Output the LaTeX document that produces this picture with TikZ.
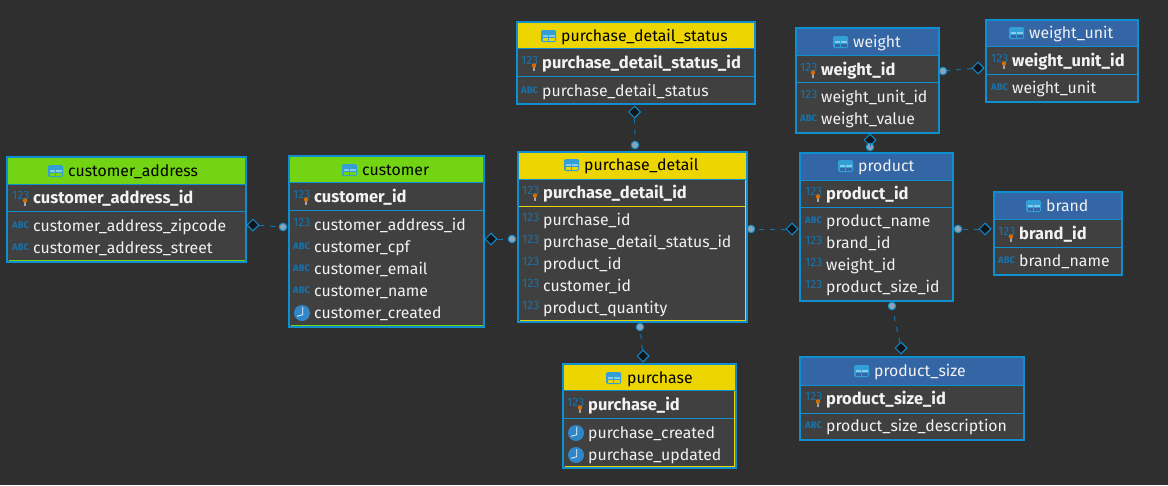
\documentclass[tikz,border=0pt]{standalone}
\usepackage{fontspec}
\setmainfont{Fira Sans}
\usetikzlibrary{shapes.geometric}
\definecolor{bgc}{HTML}{2F2F2F}
\definecolor{bodyc}{HTML}{404040}
\definecolor{edgec}{HTML}{0E8FD0}
\definecolor{typec}{HTML}{1673AE}
\definecolor{greenc}{HTML}{72D412}
\definecolor{yellowc}{HTML}{ECD500}
\definecolor{bluec}{HTML}{3465A4}
\definecolor{txtc}{HTML}{F2F2F2}
\definecolor{dotc}{HTML}{8FA3B2}
\definecolor{clockc}{HTML}{2F86C8}
\definecolor{iconc}{HTML}{3AA8E0}
\definecolor{diac}{HTML}{12161A}
\tikzset{
  tablebox/.style={draw=edgec,line width=2.4pt,fill=bodyc,rectangle,inner sep=0pt,outer sep=0pt,anchor=north west},
  rowtext/.style={text=txtc,anchor=base west,inner sep=0pt,font=\fontsize{15.8}{18}\selectfont},
  keytext/.style={rowtext,font=\fontsize{16.5}{18}\selectfont\bfseries},
  titletext/.style={anchor=base west,inner sep=0pt,font=\fontsize{15.8}{18}\selectfont},
  numicon/.style={text=typec,anchor=base west,inner sep=0pt,font=\fontsize{12}{14}\selectfont},
  abcicon/.style={text=typec,anchor=base west,inner sep=0pt,font=\fontsize{9.5}{12}\selectfont\bfseries},
  clockicon/.style={circle,fill=clockc,minimum size=16pt,inner sep=0pt},
  fkdiamond/.style={diamond,draw=edgec,fill=diac,line width=1pt,minimum size=12pt,inner sep=0pt},
  fkdot/.style={circle,draw=edgec,fill=dotc,line width=1pt,minimum size=7.5pt,inner sep=0pt},
  fkline/.style={draw=typec,line width=1pt,dash pattern=on 5pt off 6pt}
}
% id x1 y1 x2 y2 headerbottom keybottom headercolour keylinecolour
\newcommand{\ertable}[9]{%
  \node[tablebox,minimum width={(#4-#2-0.4)*1pt},minimum height={(#5-#3-0.4)*1pt}] (#1) at (#2+0.2,#3+0.2) {};
  \fill[#8] (#2+1.4,#3+1.4) rectangle (#4-1.4,#6);
  \draw[edgec,line width=1pt] (#2+1,#6) -- (#4-1,#6);
  \draw[#9,line width=1pt] (#2+1.4,#7) -- (#4-1.4,#7);
}
\newcommand{\edgeaccent}[5]{% colour x1 y1 x2 y2
  \draw[#1,line width=1pt] (#2,#3) -- (#4,#5);
}
\newcommand{\tabletitle}[6]{% id iconx textx y colour textcolour
  \fill[edgec!85!white,rounded corners=1.5pt] (#2,#4-6) rectangle (#2+15,#4+6);
  \fill[iconc!60!white] (#2+1.5,#4-1.5) rectangle (#2+6.8,#4+1);
  \fill[iconc!60!white] (#2+8.2,#4-1.5) rectangle (#2+13.5,#4+1);
  \fill[#5] (#2+1.5,#4+2) rectangle (#2+6.8,#4+5);
  \fill[#5] (#2+8.2,#4+2) rectangle (#2+13.5,#4+5);
  \node[titletext,text=#6] (#1) at (#3,#4+5.5) {\csname tt@#1\endcsname};
}
\newcommand{\keyrow}[4]{% id textx y text
  \node[numicon] (#1-i) at (#2-21,#3+1) {123};
  \fill[gray!70!white] (#2-9.3,#3+4) rectangle (#2-6.7,#3+7.5);
  \fill[orange!85!black] (#2-8,#3+2.5) circle (2.2pt);
  \node[keytext] (#1) at (#2,#3+5.5) {#4};
}
\newcommand{\numrow}[4]{%
  \node[numicon] (#1-i) at (#2-21,#3+1) {123};
  \node[rowtext] (#1) at (#2,#3+5.5) {#4};
}
\newcommand{\abcrow}[4]{%
  \node[abcicon] (#1-i) at (#2-21,#3+2.5) {ABC};
  \node[rowtext] (#1) at (#2,#3+5.5) {#4};
}
\newcommand{\clockrow}[4]{%
  \node[clockicon] (#1-i) at (#2-12,#3) {};
  \draw[white,line width=0.7pt] (#2-11.3,#3-6) -- (#2-11.3,#3+1.7) -- (#2-17,#3+3.3);
  \node[rowtext] (#1) at (#2,#3+5.5) {#4};
}
\newcommand{\link}[6]{% dname x y dotname x y
  \node[fkdiamond] (#1) at (#2,#3) {};
  \node[fkdot] (#4) at (#5,#6) {};
  \draw[fkline] (#1) -- (#4);
}
\begin{document}
\begin{tikzpicture}[x=1pt,y=-1pt]
\useasboundingbox (0,0) rectangle (1168,485);
\fill[bgc] (0,0) rectangle (1168,485);

\expandafter\def\csname tt@t1\endcsname{customer\_address}
\ertable{ca}{7}{157}{246}{262}{184}{211}{greenc}{edgec}
\edgeaccent{greenc}{8.5}{260.5}{244.5}{260.5}
\tabletitle{t1}{48}{68}{171}{greenc}{black}
\keyrow{ca1}{33}{198}{customer\_address\_id}
\abcrow{ca2}{33}{226}{customer\_address\_zipcode}
\abcrow{ca3}{33}{248}{customer\_address\_street}

\expandafter\def\csname tt@t2\endcsname{customer}
\ertable{cu}{289}{156}{484}{327}{182}{210}{greenc}{edgec}
\edgeaccent{greenc}{290.5}{325.5}{482.5}{325.5}
\tabletitle{t2}{342}{362}{170}{greenc}{black}
\keyrow{cu1}{314}{197}{customer\_id}
\numrow{cu2}{314}{225}{customer\_address\_id}
\abcrow{cu3}{314}{247}{customer\_cpf}
\abcrow{cu4}{314}{269}{customer\_email}
\abcrow{cu5}{314}{291}{customer\_name}
\clockrow{cu6}{314}{313}{customer\_created}

\expandafter\def\csname tt@t3\endcsname{purchase\_detail}
\ertable{pd}{518}{152}{747}{322}{179}{206}{yellowc}{yellowc}
\edgeaccent{yellowc}{519.5}{320.5}{745.5}{320.5}
\edgeaccent{yellowc}{745.5}{180}{745.5}{320.5}
\tabletitle{t3}{564}{584}{165}{yellowc}{black}
\keyrow{pd1}{543}{193}{purchase\_detail\_id}
\numrow{pd2}{543}{220}{purchase\_id}
\numrow{pd3}{543}{242}{purchase\_detail\_status\_id}
\numrow{pd4}{543}{264}{product\_id}
\numrow{pd5}{543}{286}{customer\_id}
\numrow{pd6}{543}{308}{product\_quantity}

\expandafter\def\csname tt@t4\endcsname{purchase\_detail\_status}
\ertable{ps}{517}{22}{755}{104}{48}{76}{yellowc}{edgec}
\tabletitle{t4}{541}{561}{36}{yellowc}{black}
\keyrow{ps1}{542}{63}{purchase\_detail\_status\_id}
\abcrow{ps2}{542}{91}{purchase\_detail\_status}

\expandafter\def\csname tt@t5\endcsname{purchase}
\ertable{pu}{563}{364}{736}{468}{390}{418}{yellowc}{edgec}
\edgeaccent{yellowc}{564.5}{466.5}{734.5}{466.5}
\edgeaccent{yellowc}{734.5}{391}{734.5}{466.5}
\tabletitle{t5}{606}{627}{378}{yellowc}{black}
\keyrow{pu1}{588}{405}{purchase\_id}
\clockrow{pu2}{588}{433}{purchase\_created}
\clockrow{pu3}{588}{455}{purchase\_updated}

\expandafter\def\csname tt@t6\endcsname{weight}
\ertable{we}{796}{28}{939}{133}{55}{82}{bluec}{edgec}
\tabletitle{t6}{833}{853}{42}{bluec}{txtc}
\keyrow{we1}{821}{70}{weight\_id}
\numrow{we2}{821}{97}{weight\_unit\_id}
\abcrow{we3}{821}{119}{weight\_value}

\expandafter\def\csname tt@t7\endcsname{weight\_unit}
\ertable{wu}{986}{20}{1138}{102}{46}{74}{bluec}{edgec}
\tabletitle{t7}{1009}{1029}{33}{bluec}{txtc}
\keyrow{wu1}{1012}{61}{weight\_unit\_id}
\abcrow{wu2}{1012}{88}{weight\_unit}

\expandafter\def\csname tt@t8\endcsname{product}
\ertable{pr}{800}{153}{953}{301}{180}{207}{bluec}{edgec}
\tabletitle{t8}{838}{858}{166}{bluec}{txtc}
\keyrow{pr1}{826}{194}{product\_id}
\abcrow{pr2}{826}{221}{product\_name}
\numrow{pr3}{826}{243}{brand\_id}
\numrow{pr4}{826}{265}{weight\_id}
\numrow{pr5}{826}{287}{product\_size\_id}

\expandafter\def\csname tt@t9\endcsname{brand}
\ertable{br}{994}{192}{1122}{275}{219}{247}{bluec}{edgec}
\tabletitle{t9}{1026}{1046}{206}{bluec}{txtc}
\keyrow{br1}{1019}{234}{brand\_id}
\abcrow{br2}{1019}{261}{brand\_name}

\expandafter\def\csname tt@t10\endcsname{product\_size}
\ertable{sz}{800}{357}{1024}{440}{385}{413}{bluec}{edgec}
\tabletitle{t10}{854}{874}{371}{bluec}{txtc}
\keyrow{sz1}{826}{399}{product\_size\_id}
\abcrow{sz2}{826}{426}{product\_size\_description}

\link{d1}{253}{225}{c1}{283}{227}
\link{d2}{491}{239}{c2}{512}{239}
\link{d3}{634.5}{112}{c3}{635}{145}
\link{d4}{643}{356}{c4}{640}{327}
\link{d5}{792}{229}{c5}{751}{229}
\link{d6}{870}{140}{c6}{870}{147}
\link{d7}{978}{68}{c7}{943}{71}
\link{d8}{985}{229}{c8}{958}{229}
\link{d9}{901}{348}{c9}{892}{306}
\end{tikzpicture}
\end{document}
